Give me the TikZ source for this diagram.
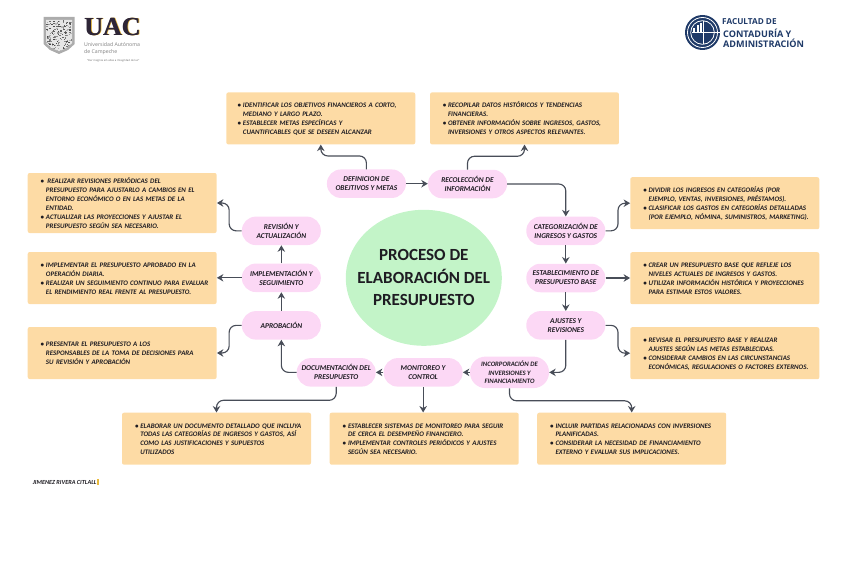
\documentclass[tikz,border=0pt]{standalone}
\usepackage{fontspec}
\usetikzlibrary{arrows.meta,calc,shapes.geometric}
\setmainfont{Carlito}
\newfontfamily\logofont{Open Sans}
\newfontfamily\serifbold{Liberation Serif}
\definecolor{boxc}{HTML}{FDDBA5}
\definecolor{pillc}{HTML}{FCD8F5}
\definecolor{circc}{HTML}{C3F4C8}
\definecolor{inkc}{HTML}{1E1C22}
\definecolor{linec}{HTML}{484D58}
\definecolor{navyc}{HTML}{1F3A68}
\definecolor{uacc}{HTML}{2E2637}
\definecolor{uacy}{HTML}{E8B93C}
\newcommand{\bl}[1]{\rule[-1.5pt]{0pt}{8.5pt}\makebox[5.3pt][l]{•}\mbox{#1}}
\newcommand{\cl}[1]{\rule[-1.5pt]{0pt}{8.5pt}\hspace*{5.3pt}\mbox{#1}}
\tikzset{
  txtbox/.style={fill=boxc,rounded corners=2pt,minimum height=52pt,text width=176pt,inner xsep=6.5pt,inner ysep=0pt,
     align=left,text=inkc,font=\fontsize{6.9}{8.95}\selectfont\bfseries\itshape},
  pill/.style={fill=pillc,rounded corners=14pt,minimum width=79pt,minimum height=28.5pt,inner sep=0pt,align=center,
     text=inkc,font=\fontsize{7.4}{9.1}\selectfont\bfseries\itshape},
  conn/.style={draw=linec,line width=1.15pt,rounded corners=7pt,-{Stealth[length=6.5pt,width=7.5pt]}},
}
\begin{document}
\begin{tikzpicture}[x=1pt,y=-1pt]
\useasboundingbox (0,0) rectangle (848,578);
% central
\node[ellipse,fill=circc,minimum width=156pt,minimum height=136pt,inner sep=0pt] (centro) at (423.8,277.8) {};
\node[inner sep=0pt,align=center,text=inkc,font=\fontsize{17}{22.5}\selectfont\bfseries] (titulo) at (centro.center) {PROCESO DE\\ELABORACIÓN DEL\\PRESUPUESTO};
% boxes
\node[txtbox,inner xsep=11.3pt,text width=166.3pt] (b1) at (320.8,118.4) {\bl{IDENTIFICAR LOS OBJETIVOS FINANCIEROS A CORTO,}\\\cl{MEDIANO Y LARGO PLAZO.}\\\bl{ESTABLECER METAS ESPECÍFICAS Y}\\\cl{CUANTIFICABLES QUE SE DESEEN ALCANZAR}};
\node[txtbox,inner xsep=12.7pt,text width=163.5pt] (b2) at (524.5,118.4) {\bl{RECOPILAR DATOS HISTÓRICOS Y TENDENCIAS}\\\cl{FINANCIERAS.}\\\bl{OBTENER INFORMACIÓN SOBRE INGRESOS, GASTOS,}\\\cl{INVERSIONES Y OTROS ASPECTOS RELEVANTES.}};
\node[txtbox,inner xsep=13pt,text width=163pt,minimum height=60pt] (l1) at (122.2,203) {\bl{\hspace{1.5pt}REALIZAR REVISIONES PERIÓDICAS DEL}\\\cl{PRESUPUESTO PARA AJUSTARLO A CAMBIOS EN EL}\\\cl{ENTORNO ECONÓMICO O EN LAS METAS DE LA}\\\cl{ENTIDAD.}\\\bl{ACTUALIZAR LAS PROYECCIONES Y AJUSTAR EL}\\\cl{PRESUPUESTO SEGÚN SEA NECESARIO.}};
\node[txtbox,inner xsep=13pt,text width=163pt] (l2) at (122.2,278) {\bl{IMPLEMENTAR EL PRESUPUESTO APROBADO EN LA}\\\cl{OPERACIÓN DIARIA.}\\\bl{REALIZAR UN SEGUIMIENTO CONTINUO PARA EVALUAR}\\\cl{EL RENDIMIENTO REAL FRENTE AL PRESUPUESTO.}};
\node[txtbox,inner xsep=13pt,text width=163pt] (l3) at (122.2,353) {\bl{PRESENTAR EL PRESUPUESTO A LOS}\\\cl{RESPONSABLES DE LA TOMA DE DECISIONES PARA}\\\cl{SU REVISIÓN Y APROBACIÓN}};
\node[txtbox,inner xsep=13pt,text width=163pt] (r1) at (724.8,203.2) {\bl{DIVIDIR LOS INGRESOS EN CATEGORÍAS (POR}\\\cl{EJEMPLO, VENTAS, INVERSIONES, PRÉSTAMOS).}\\\bl{CLASIFICAR LOS GASTOS EN CATEGORÍAS DETALLADAS}\\\cl{(POR EJEMPLO, NÓMINA, SUMINISTROS, MARKETING).}};
\node[txtbox,inner xsep=13pt,text width=163pt] (r2) at (724.8,278.2) {\bl{CREAR UN PRESUPUESTO BASE QUE REFLEJE LOS}\\\cl{NIVELES ACTUALES DE INGRESOS Y GASTOS.}\\\bl{UTILIZAR INFORMACIÓN HISTÓRICA Y PROYECCIONES}\\\cl{PARA ESTIMAR ESTOS VALORES.}};
\node[txtbox,inner xsep=13pt,text width=163pt] (r3) at (724.8,353.2) {\bl{REVISAR EL PRESUPUESTO BASE Y REALIZAR}\\\cl{AJUSTES SEGÚN LAS METAS ESTABLECIDAS.}\\\bl{CONSIDERAR CAMBIOS EN LAS CIRCUNSTANCIAS}\\\cl{ECONÓMICAS, REGULACIONES O FACTORES EXTERNOS.}};
\node[txtbox,inner xsep=13pt,text width=163pt] (d1) at (216.5,438.7) {\bl{ELABORAR UN DOCUMENTO DETALLADO QUE INCLUYA}\\\cl{TODAS LAS CATEGORÍAS DE INGRESOS Y GASTOS, ASÍ}\\\cl{COMO LAS JUSTIFICACIONES Y SUPUESTOS}\\\cl{UTILIZADOS}};
\node[txtbox,inner xsep=13pt,text width=163pt] (d2) at (424.2,438.7) {\bl{ESTABLECER SISTEMAS DE MONITOREO PARA SEGUIR}\\\cl{DE CERCA EL DESEMPEÑO FINANCIERO.}\\\bl{IMPLEMENTAR CONTROLES PERIÓDICOS Y AJUSTES}\\\cl{SEGÚN SEA NECESARIO.}};
\node[txtbox,inner xsep=13pt,text width=163pt] (d3) at (631.7,438.7) {\bl{INCLUIR PARTIDAS RELACIONADAS CON INVERSIONES}\\\cl{PLANIFICADAS.}\\\bl{CONSIDERAR LA NECESIDAD DE FINANCIAMIENTO}\\\cl{EXTERNO Y EVALUAR SUS IMPLICACIONES.}};
% pills
\node[pill] (def) at (366.4,183.7) {DEFINICION DE\\OBEJTIVOS Y METAS};
\node[pill] (rec) at (467.5,184) {RECOLECCIÓN DE\\INFORMACIÓN};
\node[pill] (cat) at (565.8,230.85) {CATEGORIZACIÓN DE\\INGRESOS Y GASTOS};
\node[pill] (est) at (565.8,278) {ESTABLECIMIENTO DE\\PRESUPUESTO BASE};
\node[pill] (aju) at (565.8,325.35) {AJUSTES Y\\REVISIONES};
\node[pill,minimum height=31.5pt,rounded corners=15.5pt,font=\fontsize{6.7}{8.3}\selectfont\bfseries\itshape] (inc) at (509.5,372.35) {INCORPORACIÓN DE\\INVERSIONES Y\\FINANCIAMIENTO};
\node[pill] (mon) at (423.15,372.35) {MONITOREO Y\\CONTROL};
\node[pill] (doc) at (336.2,372.35) {DOCUMENTACIÓN DEL\\PRESUPUESTO};
\node[pill] (apr) at (281.35,325.35) {APROBACIÓN};
\node[pill] (imp) at (281.35,277.8) {IMPLEMENTACIÓN Y\\SEGUIMIENTO};
\node[pill] (rev) at (281.35,230.85) {REVISIÓN Y\\ACTUALIZACIÓN};
% connectors
\draw[conn] (def.north) -- ++(0,-13.3) -| (b1.south);
\draw[conn] (rec.north) -- ++(0,-13.3) -| (b2.south);
\draw[conn] (def.east) -- (rec.west |- def.east);
\draw[conn] (rec.east) -| (cat.north);
\draw[conn] (cat.south) -- (est.north);
\draw[conn] (est.south) -- (aju.north);
\draw[conn] (cat.east) -- ++(12.5,0) |- (r1.west);
\draw[conn] (est.east) -- (r2.west |- est.east);
\draw[conn] (aju.east) -- ++(12.5,0) |- (r3.west);
\draw[conn] (aju.south) |- (inc.east);
\draw[conn] (inc.west) -- (mon.east);
\draw[conn] (mon.west) -- (doc.east);
\draw[conn] (doc.west) -| (apr.south);
\draw[conn] (apr.north) -- (imp.south);
\draw[conn] (imp.north) -- (rev.south);
\draw[conn] (rev.west) -- ++(-12.5,0) |- (l1.east);
\draw[conn] (imp.west) -- (l2.east |- imp.west);
\draw[conn] (apr.west) -- ++(-12.5,0) |- (l3.east);
\draw[conn] (doc.south) -- ++(0,13.5) -| (d1.north);
\draw[conn] (mon.south) -- (mon.south |- d2.north);
\draw[conn] (inc.south) -- ++(0,12.5) -| (d3.north);
% UAC logo
\fill[gray!65] (43.5,17) -- (74.7,17) -- (74.7,44) -- (68,50) -- (59,54) -- (50,50) -- (43.5,44) -- cycle;
\fill[gray!20] (46,20) -- (72.2,20) -- (72.2,43) -- (66.5,48) -- (59,51.2) -- (51.5,48) -- (46,43) -- cycle;
\begin{scope}
\clip (46,20) -- (72.2,20) -- (72.2,43) -- (66.5,48) -- (59,51.2) -- (51.5,48) -- (46,43) -- cycle;
\pgfmathsetseed{7}
\foreach \i in {1,...,170}{
  \pgfmathsetmacro{\px}{46+26*rnd}
  \pgfmathsetmacro{\py}{20+31*rnd}
  \pgfmathsetmacro{\pg}{25+50*rnd}
  \fill[black!\pg] (\px,\py) rectangle ++(1.5,1.1);
}
\end{scope}
\foreach \dx in {0,.5}{
  \node[inner sep=0pt,anchor=west,text=uacy,font=\fontsize{26}{26}\selectfont\serifbold\bfseries] at (84.6+\dx,27.5) {UAC};
}
\foreach \dx in {0,.5}{
  \node[inner sep=0pt,anchor=west,text=uacc,font=\fontsize{26}{26}\selectfont\serifbold\bfseries] at (84+\dx,26.6) {UAC};
}
\node[inner sep=0pt,anchor=west,text=gray,font=\logofont\fontsize{5.2}{5.2}\selectfont] (uni) at (84,45) {Universidad Autónoma};
\node[inner sep=0pt,anchor=west,text=gray,font=\logofont\fontsize{5.2}{5.2}\selectfont] (cam) at (84,52) {de Campeche};
\node[inner sep=0pt,anchor=west,text=gray!80!black,font=\logofont\fontsize{2.7}{2.7}\selectfont] (lem) at (87,60.3) {“Der insignia ein altas a Integridad de luz”};
% FCA logo
\fill[navyc] (702.5,32.5) circle (17.5);
\draw[white,line width=.8pt] (702.5,32.5) circle (15);
\fill[navyc] (702.5,32.5) circle (13.6);
\draw[white,line width=.8pt] (702.5,32.5) circle (11.8);
\fill[navyc] (702.5,32.5) circle (10.8);
\fill[white] (693,28) rectangle (695,32);
\fill[white] (696.5,25) rectangle (698.5,32);
\fill[white] (699.8,23) rectangle (701.6,32);
\fill[white] (702.5,21) rectangle (703.3,44);
\fill[white] (692,32.2) rectangle (720,33);
\node[inner sep=0pt,anchor=west,text=navyc,font=\logofont\bfseries\fontsize{8.2}{8.2}\selectfont] (f1) at (722,22) {FACULTAD DE};
\node[inner sep=0pt,anchor=west,text=navyc,font=\logofont\bfseries\fontsize{9.1}{9.1}\selectfont] (f2) at (723,33) {CONTADURÍA Y};
\node[inner sep=0pt,anchor=west,text=navyc,font=\logofont\bfseries\fontsize{9.1}{9.1}\selectfont] (f3) at (723,43) {ADMINISTRACIÓN};
% footer
\node[inner sep=0pt,anchor=west,text=inkc,font=\fontsize{6.2}{6.2}\selectfont\bfseries\itshape] (pie) at (32.7,482) {JIMENEZ RIVERA CITLALL};
\fill[uacy] (97,479.3) rectangle (99,484.8);
\end{tikzpicture}
\end{document}
